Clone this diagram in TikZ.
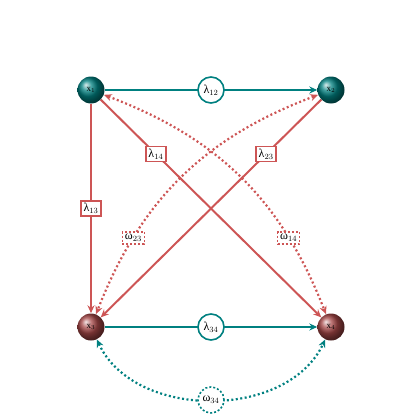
\documentclass[tikz,border=0pt]{standalone}
\usepackage{fontspec}
\setmainfont{Liberation Serif}
\usetikzlibrary{arrows.meta}

\definecolor{tealc}{RGB}{0,128,128}
\definecolor{redc}{RGB}{205,85,85}
\definecolor{redball}{RGB}{165,70,70}

\begin{document}
\begin{tikzpicture}[x=1pt, y=-1pt,
  ball/.style={circle, minimum size=27pt, inner sep=0pt, shading=ball, font=\small},
  tealedge/.style={draw=tealc, line width=2pt, -{Stealth[length=8pt,width=7pt]}},
  rededge/.style={draw=redc, line width=2pt, -{Stealth[length=8pt,width=7pt]}},
  tealdot/.style={draw=tealc, line width=2.2pt, dash pattern=on 2pt off 2.5pt, {Stealth[length=8pt,width=7pt]}-{Stealth[length=8pt,width=7pt]}},
  reddot/.style={draw=redc, line width=2.2pt, dash pattern=on 2pt off 2.5pt, {Stealth[length=8pt,width=7pt]}-{Stealth[length=8pt,width=7pt]}},
  lamc/.style={circle, draw=tealc, solid, line width=1.6pt, fill=white, inner sep=1pt, minimum size=26pt, font=\large},
  lamr/.style={rectangle, draw=redc, solid, line width=1.6pt, fill=white, inner sep=2.5pt, font=\large},
  omc/.style={lamc, dash pattern=on 2pt off 2pt},
  omr/.style={lamr, dash pattern=on 2pt off 2pt}]
  \useasboundingbox (0,0) rectangle (420,420);
  \node[ball, ball color=tealc] (x1) at (91,90)   {x$_1$};
  \node[ball, ball color=tealc] (x2) at (331,90)  {x$_2$};
  \node[ball, ball color=redball] (x3) at (91,327)  {x$_3$};
  \node[ball, ball color=redball] (x4) at (331,327) {x$_4$};
  % dotted links
  \draw[reddot] (x1) to[bend left=24] node[pos=0.75, omr] {ω$_{14}$} (x4);
  \draw[reddot] (x2) to[bend right=24] node[pos=0.75, omr] {ω$_{23}$} (x3);
  \draw[tealdot] (x3) to[out=-65, in=-115, looseness=1] node[omc] {ω$_{34}$} (x4);
  % solid links
  \draw[rededge] (x1) -- node[lamr] {λ$_{13}$} (x3);
  \draw[rededge] (x1) -- node[pos=0.25, lamr] {λ$_{14}$} (x4);
  \draw[rededge] (x2) -- node[pos=0.25, lamr] {λ$_{23}$} (x3);
  \draw[tealedge] (x1) -- node[lamc] {λ$_{12}$} (x2);
  \draw[tealedge] (x3) -- node[lamc] {λ$_{34}$} (x4);
\end{tikzpicture}
\end{document}
